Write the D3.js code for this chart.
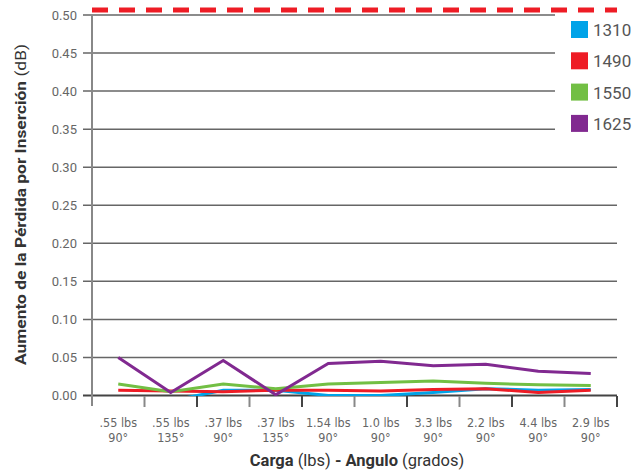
<!DOCTYPE html>
<html>
<head>
<meta charset="utf-8">
<script src="https://cdn.jsdelivr.net/npm/d3@7"></script>
<style>
  body { margin: 0; background: #fff; }
  text { font-family: "DejaVu Sans Condensed", "Roboto", sans-serif; }
</style>
</head>
<body>
<div id="chart"></div>
<script>
// Categories (load - angle)
var loads = [".55 lbs", ".55 lbs", ".37 lbs", ".37 lbs", "1.54 lbs", "1.0 lbs", "3.3 lbs", "2.2 lbs", "4.4 lbs", "2.9 lbs"];
var angles = ["90°", "135°", "90°", "135°", "90°", "90°", "90°", "90°", "90°", "90°"];

// Series values (dB)
var wl1310 = [-0.006, -0.007, 0.007, 0.007, 0.000, 0.000, 0.004, 0.009, 0.007, 0.008];
var wl1490 = [0.007, 0.006, 0.005, 0.007, 0.007, 0.006, 0.008, 0.009, 0.004, 0.007];
var wl1550 = [0.015, 0.005, 0.015, 0.009, 0.015, 0.017, 0.019, 0.016, 0.014, 0.013];
var wl1625 = [0.050, 0.004, 0.046, 0.001, 0.042, 0.045, 0.039, 0.041, 0.032, 0.029];

var seriesNames = ["1310", "1490", "1550", "1625"];
var seriesColors = ["#00a3e8", "#ee1c25", "#72bf44", "#812990"];
var limitValue = 0.506;

var yTicks = [0, 0.05, 0.10, 0.15, 0.20, 0.25, 0.30, 0.35, 0.40, 0.45, 0.50];

var margin = { top: 15, right: 27, bottom: 75, left: 92 },
    width = 644 - margin.left - margin.right,
    height = 471 - margin.top - margin.bottom;

var svg = d3.select("#chart")
    .append("svg")
    .attr("width", 644)
    .attr("height", 471)
    .append("g")
    .attr("transform", "translate(" + margin.left + "," + margin.top + ")");

var plotW = 525; // width covered by the categories

var x = d3.scaleBand()
    .domain(d3.range(loads.length))
    .range([0, plotW]);

var y = d3.scaleLinear()
    .domain([0, 0.5])
    .range([height - 0.5, 0]);

// Grid lines
svg.append("g")
    .selectAll("line")
    .data(yTicks)
    .enter()
    .append("line")
    .attr("x1", -9)
    .attr("x2", width)
    .attr("y1", d => y(d))
    .attr("y2", d => y(d))
    .style("stroke", d => d === 0 ? "#444" : "#666")
    .style("stroke-width", d => d === 0 ? 2 : 1.5);

// Y tick labels
svg.append("g")
    .selectAll("text")
    .data(yTicks)
    .enter()
    .append("text")
    .attr("x", -15)
    .attr("y", d => y(d) + 4.5)
    .attr("text-anchor", "end")
    .style("font-family", "Roboto, sans-serif")
    .style("font-size", "13px")
    .style("fill", "#666")
    .text(d => d3.format(".2f")(d));

// Y axis line
svg.append("line")
    .attr("x1", 0).attr("x2", 0)
    .attr("y1", 0).attr("y2", height + 10)
    .style("stroke", "#888")
    .style("stroke-width", 2);

// X ticks
svg.append("g")
    .selectAll("line")
    .data(d3.range(1, loads.length + 1))
    .enter()
    .append("line")
    .attr("x1", d => d * x.bandwidth())
    .attr("x2", d => d * x.bandwidth())
    .attr("y1", height)
    .attr("y2", height + 11)
    .style("stroke", (d, i) => i % 2 ? "#444" : "#888")
    .style("stroke-width", 2);

// X tick labels
var xl = svg.append("g")
    .selectAll("text")
    .data(loads)
    .enter()
    .append("text")
    .attr("text-anchor", "middle")
    .style("font-size", "12.5px")
    .style("fill", "#666");
xl.append("tspan")
    .attr("x", (d, i) => x(i) + x.bandwidth() / 2)
    .attr("y", height + 31)
    .text(d => d);
xl.append("tspan")
    .attr("x", (d, i) => x(i) + x.bandwidth() / 2)
    .attr("y", height + 46)
    .text((d, i) => angles[i]);

// Legend box (covers grid)
var legend = svg.append("g").attr("transform", "translate(463,0)");
legend.append("rect")
    .attr("x", 0).attr("y", -6)
    .attr("width", 73).attr("height", 145)
    .style("fill", "#fff");
seriesNames.forEach(function (name, i) {
    legend.append("rect")
        .attr("x", 16)
        .attr("y", 6 + i * 31.3)
        .attr("width", 17)
        .attr("height", 17)
        .style("fill", seriesColors[i]);
    legend.append("text")
        .attr("x", 38)
        .attr("y", 21 + i * 31.3)
        .style("font-family", "Roboto, sans-serif")
        .style("font-size", "17px")
        .style("fill", "#555")
        .text(name);
});

// Limit line
svg.append("line")
    .attr("x1", 0)
    .attr("x2", width)
    .attr("y1", y(limitValue) - 0.5)
    .attr("y2", y(limitValue) - 0.5)
    .style("stroke", "#ee1c25")
    .style("stroke-width", 5)
    .style("stroke-dasharray", "16,11");

// Clip to plot area
svg.append("clipPath")
    .attr("id", "clip")
    .append("rect")
    .attr("x", 0).attr("y", -5)
    .attr("width", width).attr("height", height + 5);

var line = d3.line()
    .x((d, i) => x(i) + x.bandwidth() / 2)
    .y(d => y(d));

var allSeries = [wl1310, wl1490, wl1550, wl1625];
svg.append("g")
    .attr("clip-path", "url(#clip)")
    .selectAll("path")
    .data(allSeries)
    .enter()
    .append("path")
    .attr("d", d => line(d))
    .style("fill", "none")
    .style("stroke", (d, i) => seriesColors[i])
    .style("stroke-width", 3);

// Y axis title
var yt = svg.append("text")
    .attr("transform", "rotate(-90)")
    .attr("x", -(204.5 - margin.top))
    .attr("y", -66)
    .attr("text-anchor", "middle")
    .attr("textLength", 321)
    .attr("lengthAdjust", "spacingAndGlyphs")
    .style("font-family", "Roboto, sans-serif")
    .style("font-size", "15px")
    .style("fill", "#333");
yt.append("tspan").style("font-weight", "bold").text("Aumento de la Pérdida por Inserción ");
yt.append("tspan").text("(dB)");

// X axis title
var xt = svg.append("text")
    .attr("x", 265)
    .attr("y", height + 70)
    .attr("text-anchor", "middle")
    .style("font-family", "Roboto, sans-serif")
    .style("font-size", "16.5px")
    .style("fill", "#333");
xt.append("tspan").style("font-weight", "bold").text("Carga ");
xt.append("tspan").text("(lbs) ");
xt.append("tspan").style("font-weight", "bold").text("- Angulo ");
xt.append("tspan").text("(grados)");
</script>
</body>
</html>
